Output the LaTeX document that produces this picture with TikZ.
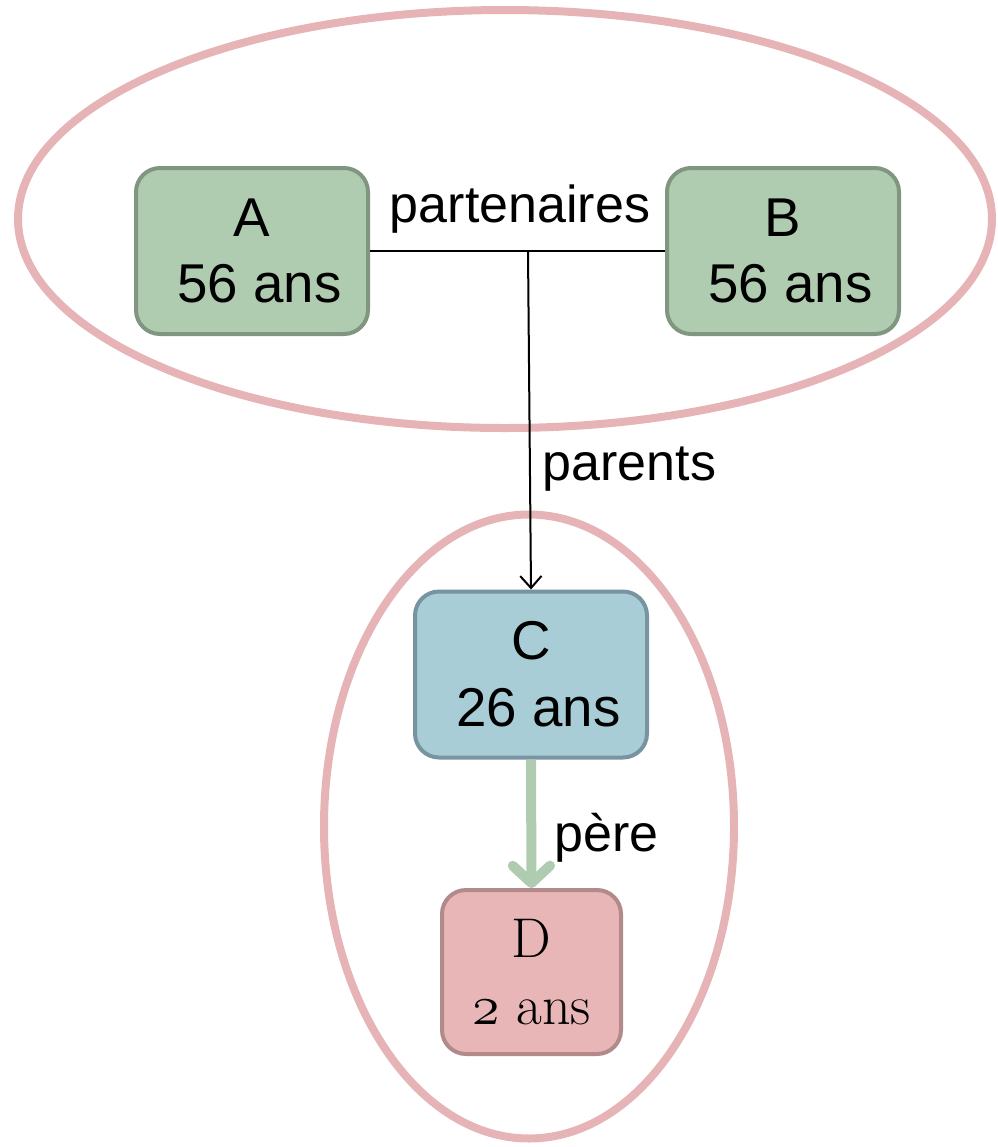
\RequirePackage{fix-cm}
\documentclass[tikz,border=0pt]{standalone}
\usepackage{fontspec}
\newfontfamily\arialfont{Liberation Sans}
\usetikzlibrary{arrows.meta,shapes.geometric}
\definecolor{vertfond}{RGB}{176,204,176}
\definecolor{vertbord}{RGB}{128,150,128}
\definecolor{bleufond}{RGB}{168,205,214}
\definecolor{bleubord}{RGB}{120,148,160}
\definecolor{rosefond}{RGB}{232,182,182}
\definecolor{rosebord}{RGB}{178,138,138}
\definecolor{rosegroupe}{RGB}{230,180,182}
\begin{document}
\begin{tikzpicture}[
	x=0.75pt,
	y=-0.75pt,
	personne/.style={
		rectangle,
		rounded corners=18pt,
		line width=3pt,
		align=center,
		inner sep=0pt,
		minimum height=124.5pt,
		minimum width=174pt,
		font=\arialfont\fontsize{41}{50}\selectfont
	},
	adulte/.style={
		personne,
		draw=vertbord,
		fill=vertfond
	},
	jeune/.style={
		personne,
		draw=bleubord,
		fill=bleufond
	},
	enfant/.style={
		personne,
		draw=rosebord,
		fill=rosefond,
		minimum width=134.25pt,
		minimum height=123pt,
		font=\fontsize{42}{50}\selectfont
	},
	groupe/.style={
		ellipse,
		draw=rosegroupe,
		line width=6pt,
		inner sep=0pt
	},
	lien/.style={
		font=\arialfont\fontsize{39}{47}\selectfont
	},
]

\useasboundingbox (0,0) rectangle (998,1147);

% Groups
\node[groupe, minimum width=730.5pt, minimum height=313.5pt] (couple) at (505,219) {};
\node[groupe, minimum width=307.5pt, minimum height=468pt] (famille) at (529,826.5) {};

% Persons
\node[adulte] (A) at (252,251) {A\\\hspace*{.28em}56 ans};
\node[adulte] (B) at (783,251) {B\\\hspace*{.28em}56 ans};
\node[jeune] (C) at (531,674.5) {C\\\hspace*{.28em}26 ans};
\node[enfant] (D) at (531.5,972) {D\\$\mathnormal{2}$ ans};

% Links
\coordinate (jonction) at (528,251);
\draw[line width=1.5pt] (A.east) -- (B.west);
\draw[line width=1.5pt, -{Straight Barb[length=9pt,width=16pt]}] (jonction) -- (C.north);
\draw[line width=7.5pt, draw=vertfond, -{Straight Barb[round,length=13pt,width=28pt]}]
(C.south) -- (D.north);

\node[lien, anchor=base] (partenaires) at (520,222) {partenaires};
\node[lien, anchor=base west] (parents) at (538,480) {parents};
\node[lien, anchor=base west] (pere) at (550,851) {père};

\end{tikzpicture}
\end{document}
